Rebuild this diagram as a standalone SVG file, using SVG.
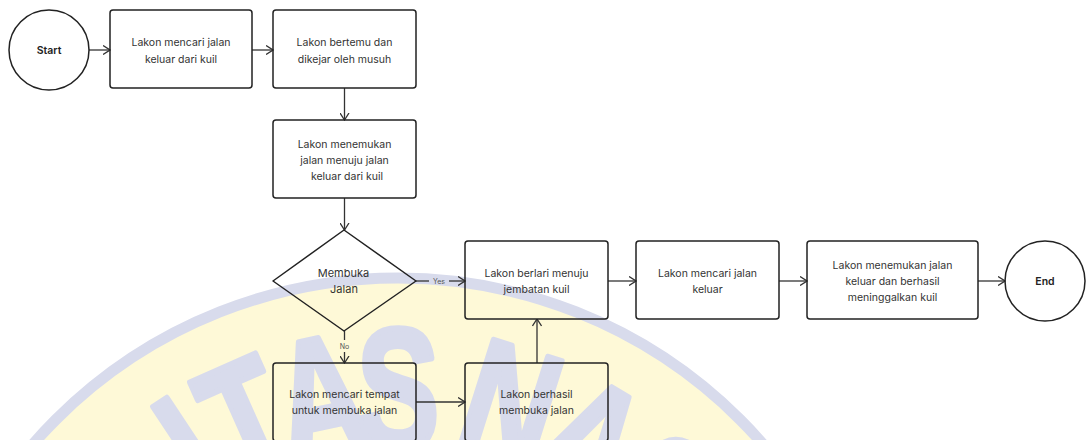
<svg xmlns="http://www.w3.org/2000/svg" width="1091" height="440" viewBox="0 0 1091 440">
<style>
.node{fill:none;stroke:#222;stroke-width:1.5}
.lbl{font-family:Inter,"Liberation Sans",sans-serif;font-size:10.5px;fill:#333;text-anchor:middle}
.term{font-family:Inter,"Liberation Sans",sans-serif;font-size:10.5px;font-weight:600;fill:#222;text-anchor:middle}
.edge{fill:none;stroke:#333;stroke-width:1.3}
.elbl{font-family:Inter,"Liberation Sans",sans-serif;font-size:7px;fill:#555;text-anchor:middle}
.wm{font-family:"Liberation Sans",Arial,sans-serif;font-weight:bold;font-size:172px;fill:#d8dbec;stroke:#d8dbec;stroke-width:6;stroke-linejoin:round;text-anchor:middle}
</style>
<defs>
<marker id="ah" viewBox="0 0 8 10" refX="7.5" refY="5" markerWidth="8" markerHeight="10" markerUnits="userSpaceOnUse" orient="auto">
<path d="M0.5,0.5 L7.5,5 L0.5,9.5" fill="none" stroke="#333" stroke-width="1.3"/>
</marker>
</defs>
<rect width="1091" height="440" fill="#fff"/>
<g id="watermark">
<circle cx="398" cy="762" r="484" fill="#fef9d7" stroke="#d8dbec" stroke-width="11"/>
<text class="wm" transform="rotate(-46 398 762) translate(398 449) scale(0.72 1)">S</text>
<text class="wm" transform="rotate(-33.5 398 762) translate(398 449) scale(0.72 1)">I</text>
<text class="wm" transform="rotate(-24 398 762) translate(398 449) scale(0.72 1)">T</text>
<text class="wm" transform="rotate(-12 398 762) translate(398 449) scale(0.72 1)">A</text>
<text class="wm" transform="rotate(0 398 762) translate(398 449) scale(0.72 1)">S</text>
<text class="wm" transform="rotate(17.5 398 762) translate(398 449) scale(0.72 1)">N</text>
<text class="wm" transform="rotate(31 398 762) translate(398 449) scale(0.72 1)">A</text>
<text class="wm" transform="rotate(44 398 762) translate(398 449) scale(0.72 1)">S</text>
</g>
<g id="connectors">
<line class="edge" x1="89" y1="50" x2="110" y2="50" marker-end="url(#ah)"/>
<line class="edge" x1="252" y1="50" x2="273" y2="50" marker-end="url(#ah)"/>
<line class="edge" x1="344.5" y1="88" x2="344.5" y2="120" marker-end="url(#ah)"/>
<line class="edge" x1="344.5" y1="198" x2="344.5" y2="230" marker-end="url(#ah)"/>
<line class="edge" x1="416" y1="281" x2="429" y2="281"/>
<text class="elbl" x="439" y="283.5">Yes</text>
<line class="edge" x1="449" y1="281" x2="465" y2="281" marker-end="url(#ah)"/>
<line class="edge" x1="608" y1="281" x2="636" y2="281" marker-end="url(#ah)"/>
<line class="edge" x1="779" y1="281" x2="807" y2="281" marker-end="url(#ah)"/>
<line class="edge" x1="978" y1="281" x2="1005" y2="281" marker-end="url(#ah)"/>
<line class="edge" x1="344.5" y1="331" x2="344.5" y2="340"/>
<text class="elbl" x="344.5" y="349">No</text>
<line class="edge" x1="344.5" y1="352" x2="344.5" y2="363" marker-end="url(#ah)"/>
<line class="edge" x1="416" y1="402" x2="465" y2="402" marker-end="url(#ah)"/>
<line class="edge" x1="537" y1="363" x2="537" y2="319" marker-end="url(#ah)"/>
</g>
<g id="start">
<circle class="node" cx="49" cy="50" r="40"/>
<text class="term" x="49" y="54">Start</text>
</g>
<g id="n1">
<rect class="node" x="110" y="10" width="142" height="78" rx="3"/>
<text class="lbl" x="181" y="46">Lakon mencari jalan</text>
<text class="lbl" x="181" y="63">keluar dari kuil</text>
</g>
<g id="n2">
<rect class="node" x="273" y="10" width="143" height="78" rx="3"/>
<text class="lbl" x="344.5" y="46">Lakon bertemu dan</text>
<text class="lbl" x="344.5" y="63">dikejar oleh musuh</text>
</g>
<g id="n3">
<rect class="node" x="273" y="120" width="143" height="78" rx="3"/>
<text class="lbl" x="344.5" y="148">Lakon menemukan</text>
<text class="lbl" x="344.5" y="164">jalan menuju jalan</text>
<text class="lbl" x="347" y="180">keluar dari kuil</text>
</g>
<g id="decision">
<polygon class="node" points="344,230 416,281 344,331 273,281" stroke-linejoin="round"/>
<text class="lbl" x="343.5" y="277" style="font-size:11px">Membuka</text>
<text class="lbl" x="344" y="293" style="font-size:11px">Jalan</text>
</g>
<g id="n4">
<rect class="node" x="465" y="241" width="143" height="78" rx="3"/>
<text class="lbl" x="536.5" y="277">Lakon berlari menuju</text>
<text class="lbl" x="536.5" y="293">jembatan kuil</text>
</g>
<g id="n5">
<rect class="node" x="636" y="241" width="143" height="78" rx="3"/>
<text class="lbl" x="707.5" y="277">Lakon mencari jalan</text>
<text class="lbl" x="707.5" y="293">keluar</text>
</g>
<g id="n6">
<rect class="node" x="807" y="241" width="171" height="78" rx="3"/>
<text class="lbl" x="892.5" y="269">Lakon menemukan jalan</text>
<text class="lbl" x="892.5" y="285">keluar dan berhasil</text>
<text class="lbl" x="892.5" y="301">meninggalkan kuil</text>
</g>
<g id="end">
<circle class="node" cx="1045" cy="281" r="40"/>
<text class="term" x="1045" y="285">End</text>
</g>
<g id="n7">
<rect class="node" x="273" y="363" width="143" height="78" rx="3"/>
<text class="lbl" x="344.5" y="398">Lakon mencari tempat</text>
<text class="lbl" x="344.5" y="414">untuk membuka jalan</text>
</g>
<g id="n8">
<rect class="node" x="465" y="363" width="143" height="78" rx="3"/>
<text class="lbl" x="536.5" y="398">Lakon berhasil</text>
<text class="lbl" x="536.5" y="414">membuka jalan</text>
</g>
</svg>
